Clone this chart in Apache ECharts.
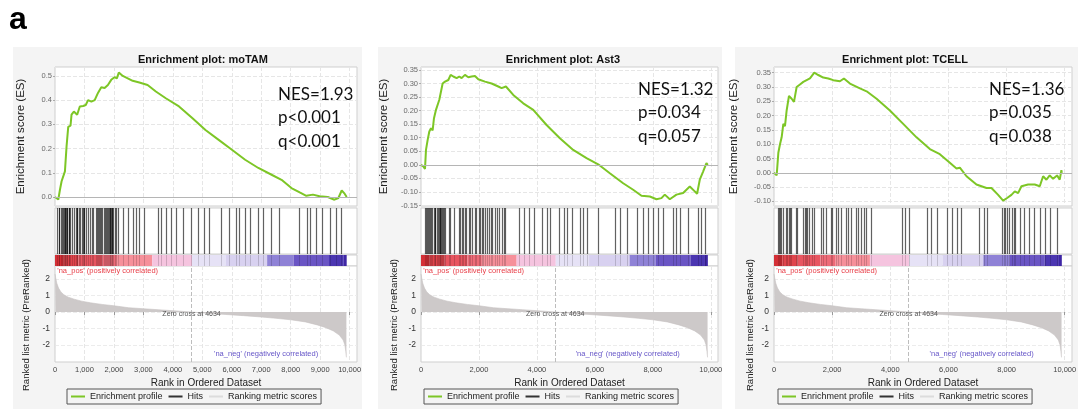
<!DOCTYPE html>
<html lang="en">
<head>
<meta charset="UTF-8">
<title>Enrichment plots</title>
<script src="https://cdn.jsdelivr.net/npm/echarts@6/dist/echarts.min.js"></script>
<style>
html, body { margin: 0; padding: 0; background: #fff; }
#main { width: 1081px; height: 409px; }
</style>
</head>
<body>
<div id="main"></div>
<script>
// ranked list metric, shared by the three gene sets
var metricRanks = [0, 20, 60, 120, 200, 300, 450, 650, 900, 1200, 1600, 2000, 2500, 3000, 3500, 4000, 4634,
    5200, 5800, 6400, 7000, 7500, 8000, 8500, 8900, 9200, 9450, 9650, 9780, 9840, 9870, 9890];
var metricScores = [2.3, 2.1, 1.75, 1.45, 1.22, 1.05, 0.9, 0.78, 0.66, 0.56, 0.46, 0.38, 0.26, 0.2, 0.14, 0.08, 0,
    -0.08, -0.15, -0.22, -0.3, -0.38, -0.47, -0.6, -0.78, -0.95, -1.15, -1.4, -1.7, -2.0, -2.4, -2.75];

// colour bar under the hits (rank boundaries and colours)
var bandEdges = [0, 300, 800, 1600, 2100, 3300, 4650, 5800, 7200, 8100, 9300, 9800, 9900];
var bandColors = ['#d42f36', '#e0444c', '#e85560', '#ee6b78', '#f6909a', '#f5c4df',
    '#e6e2f6', '#d8d1f0', '#8f82d6', '#6a55c4', '#4b36b1', '#3e26a4'];

// moTAM
var esRanks1 = [0, 112, 168, 224, 280, 337, 393, 449, 527, 561, 640, 752, 842, 954, 1044, 1122, 1235, 1347, 1459, 1571,
    1684, 1796, 1908, 2020, 2099, 2166, 2301, 2469, 2637, 2862, 3143, 3423, 3760, 4209, 4658, 5107, 5556, 6004, 6453, 6902,
    7351, 7688, 8025, 8305, 8530, 8754, 8979, 9259, 9484, 9618, 9731, 9830, 9900];
var esScores1 = [0, -0.01, 0.03, 0.065, 0.058, 0.106, 0.21, 0.29, 0.295, 0.34, 0.353, 0.34, 0.374, 0.376, 0.38, 0.40, 0.394, 0.40, 0.43, 0.453,
    0.45, 0.463, 0.484, 0.495, 0.49, 0.514, 0.50, 0.49, 0.48, 0.473, 0.463, 0.436, 0.408, 0.374, 0.326, 0.277, 0.236, 0.195, 0.154, 0.12,
    0.092, 0.071, 0.037, 0.019, 0.005, 0.01, 0.003, 0, -0.011, -0.004, 0.027, 0.014, 0];
var hits1 = [60, 125, 150, 200, 240, 260, 293, 330, 350, 370, 400, 420, 461, 480, 520, 572, 640, 700, 741, 760,
    800, 842, 900, 940, 976, 1000, 1050, 1135, 1200, 1246, 1300, 1400, 1420, 1471, 1500, 1530, 1560, 1582, 1650, 1700,
    1720, 1751, 1790, 1818, 1860, 1880, 1900, 1919, 1950, 1970, 2020, 2080, 2145, 2300, 2481, 2650, 2750, 2862, 3030, 3491,
    3603, 3771, 3939, 4108, 4333, 4613, 4838, 5051, 5219, 5623, 5892, 6128, 6229, 6465, 6633, 6902, 7071, 7340, 7609, 8283,
    8552, 8653, 8855, 9057, 9327, 9529, 9697];
var esTicks1 = [0, 0.1, 0.2, 0.3, 0.4, 0.5];
var stats1 = ['NES=1.93', 'p<0.001', 'q<0.001'];

// Ast3
var esRanks2 = [0, 80, 138, 172, 230, 287, 345, 402, 448, 517, 632, 690, 747, 828, 943, 1023, 1115, 1230, 1322, 1402,
    1517, 1632, 1747, 1862, 1977, 2207, 2437, 2667, 2782, 2931, 3184, 3529, 3874, 4333, 4793, 5253, 5713, 6115, 6517, 6977,
    7322, 7609, 7897, 8126, 8299, 8414, 8586, 8816, 9046, 9276, 9448, 9529, 9621, 9736, 9851, 9900];
var esScores2 = [0, -0.006, -0.015, 0.055, 0.092, 0.123, 0.135, 0.127, 0.172, 0.203, 0.24, 0.246, 0.30, 0.307, 0.313, 0.332, 0.326, 0.32, 0.326, 0.32,
    0.332, 0.323, 0.326, 0.328, 0.316, 0.307, 0.30, 0.289, 0.283, 0.289, 0.258, 0.227, 0.203, 0.147, 0.098, 0.055, 0.025, 0.002, -0.031, -0.068,
    -0.092, -0.114, -0.117, -0.127, -0.123, -0.11, -0.127, -0.11, -0.104, -0.08, -0.098, -0.107, -0.055, -0.025, 0.006, 0];
var hits2 = [148, 170, 200, 230, 265, 300, 330, 380, 438, 470, 500, 552, 580, 610, 640, 666, 690, 720, 750, 783,
    820, 955, 1010, 1128, 1300, 1350, 1414, 1450, 1528, 1560, 1650, 1700, 1750, 1872, 1900, 1990, 2050, 2103, 2150, 2217,
    2270, 2334, 2400, 2448, 2550, 2621, 2700, 2793, 2850, 2907, 3369, 3541, 3714, 3886, 4172, 4345, 4459, 4748, 4920, 5024,
    5197, 5483, 5597, 5714, 6114, 6690, 6862, 7093, 7438, 7666, 7838, 8010, 8183, 8355, 8700, 8817, 8931, 9217, 9562, 9679,
    9793];
var esTicks2 = [-0.15, -0.1, -0.05, 0, 0.05, 0.1, 0.15, 0.2, 0.25, 0.3, 0.35];
var stats2 = ['NES=1.32', 'p=0.034', 'q=0.057'];

// TCELL
var esRanks3 = [0, 92, 149, 206, 263, 321, 378, 435, 515, 607, 687, 779, 893, 1008, 1122, 1237, 1386, 1523, 1695, 1867,
    2039, 2268, 2405, 2612, 2955, 3185, 3528, 3986, 4444, 4902, 5361, 5704, 6048, 6277, 6392, 6621, 6964, 7308, 7480, 7709,
    7881, 8018, 8167, 8282, 8396, 8511, 8740, 8969, 9141, 9256, 9370, 9485, 9599, 9737, 9828, 9885, 9900];
var esScores3 = [0, -0.009, 0.07, 0.10, 0.124, 0.171, 0.163, 0.218, 0.269, 0.259, 0.248, 0.30, 0.309, 0.318, 0.324, 0.33, 0.35, 0.342, 0.333, 0.33,
    0.324, 0.32, 0.33, 0.312, 0.295, 0.285, 0.259, 0.218, 0.171, 0.124, 0.083, 0.065, 0.035, 0.015, 0.018, -0.012, -0.041, -0.053, -0.053, -0.077,
    -0.097, -0.088, -0.077, -0.065, -0.071, -0.047, -0.041, -0.041, -0.047, -0.012, -0.024, -0.009, -0.021, -0.009, -0.024, 0.009, 0];
var hits3 = [127, 160, 200, 241, 300, 412, 450, 527, 560, 600, 756, 800, 986, 1050, 1100, 1150, 1213, 1300, 1385, 1615,
    1700, 1787, 1959, 2000, 2131, 2200, 2302, 2474, 2550, 2646, 2818, 2900, 2990, 3100, 3162, 3333, 4388, 4502, 4650, 5268,
    5385, 5612, 5955, 6127, 6299, 6416, 7045, 7216, 7330, 7850, 7904, 7950, 8018, 8100, 8189, 8250, 8306, 8478, 8591, 8763,
    8935, 9165, 9337, 9509, 9736];
var esTicks3 = [-0.1, -0.05, 0, 0.05, 0.1, 0.15, 0.2, 0.25, 0.3, 0.35];
var stats3 = ['NES=1.36', 'p=0.035', 'q=0.038'];

var xTicks1 = [0, 1000, 2000, 3000, 4000, 5000, 6000, 7000, 8000, 9000, 10000];
var xTicks23 = [0, 2000, 4000, 6000, 8000, 10000];
var metricTicks = [-2, -1, 0, 1, 2];
var zeroCross = 4634;

var panels = [
    { title: 'Enrichment plot: moTAM', left: 55, width: 302, titleX: 203, ranks: esRanks1, scores: esScores1, hits: hits1,
      esMin: -0.037, esMax: 0.537, esTicks: esTicks1, digits: 1, xTicks: xTicks1, stats: stats1, statsX: 278, statsY: 83,
      esGap: 28, metricGap: 24, bg: [13, 362], legendX: 67 },
    { title: 'Enrichment plot: Ast3', left: 421, width: 297, titleX: 563, ranks: esRanks2, scores: esScores2, hits: hits2,
      esMin: -0.152, esMax: 0.361, esTicks: esTicks2, digits: 2, xTicks: xTicks23, stats: stats2, statsX: 638, statsY: 78,
      esGap: 31, metricGap: 22, bg: [378, 722], legendX: 424 },
    { title: 'Enrichment plot: TCELL', left: 774, width: 298, titleX: 905, ranks: esRanks3, scores: esScores3, hits: hits3,
      esMin: -0.116, esMax: 0.37, esTicks: esTicks3, digits: 2, xTicks: xTicks23, stats: stats3, statsX: 989, statsY: 78,
      esGap: 34, metricGap: 19, bg: [735, 1078], legendX: 778 }
];

var font = 'Liberation Sans';
var green = '#7dc626';
var rows = [{ top: 67, height: 139 }, { top: 208, height: 46 }, { top: 255, height: 11 }, { top: 266, height: 96 }];

function zip(a, b) {
    return a.map(function (v, i) { return [v, b[i]]; });
}
function thousands(v) {
    return Number(v).toLocaleString('en-US');
}
function renderHit(params, api) {
    var x = Math.round(api.coord([api.value(0), 0])[0]) + 0.5;
    var cs = params.coordSys;
    var strong = params.seriesName === 'Hits';
    return {
        type: 'line',
        shape: { x1: x, y1: cs.y, x2: x, y2: cs.y + cs.height },
        style: { stroke: '#000', lineWidth: strong ? 1.2 : 1, opacity: strong ? 0.62 : 0.16 }
    };
}
function renderBand(params, api) {
    var s = api.coord([api.value(0), 0]);
    var e = api.coord([api.value(1), 0]);
    var cs = params.coordSys;
    return {
        type: 'rect',
        shape: { x: s[0], y: cs.y, width: e[0] - s[0], height: cs.height },
        style: { fill: api.visual('color') }
    };
}

var grids = [], xAxes = [], yAxes = [], series = [], legends = [], graphics = [];

graphics.push({
    type: 'text', x: 9, y: 20, z: 10,
    style: { text: 'a', font: 'bold 32px "Liberation Sans"', fill: '#000', textVerticalAlign: 'middle', verticalAlign: 'middle' }
});

panels.forEach(function (p, i) {
    var base = i * 4;

    graphics.push({
        type: 'rect', z: -10, silent: true,
        shape: { x: p.bg[0], y: 47, width: p.bg[1] - p.bg[0], height: 362 },
        style: { fill: '#f4f4f4' }
    });
    graphics.push({
        type: 'text', x: p.titleX, y: 60, z: 10,
        style: { text: p.title, font: 'bold 11px "Liberation Sans"', fill: '#111',
                 textAlign: 'center', align: 'center', textVerticalAlign: 'middle', verticalAlign: 'middle' }
    });
    graphics.push({
        type: 'text', x: p.statsX, y: p.statsY, z: 10,
        style: { text: p.stats.join('\n'), font: '17px Lato', fill: '#111', lineHeight: 23.3,
                 textVerticalAlign: 'top', verticalAlign: 'top' }
    });

    rows.forEach(function (r) {
        grids.push({
            left: p.left, width: p.width, top: r.top, height: r.height,
            show: true, backgroundColor: '#fff', borderColor: '#cfcfcf', borderWidth: 1
        });
    });

    for (var k = 0; k < 4; k++) {
        var bottom = k === 3;
        xAxes.push({
            type: 'value', gridIndex: base + k, min: 0, max: 10250,
            axisLine: { show: false },
            axisTick: { show: bottom, customValues: p.xTicks, length: 3, lineStyle: { color: '#999' } },
            axisLabel: { show: bottom, customValues: p.xTicks, formatter: thousands, fontSize: 7.5,
                         color: '#444', margin: 4, fontFamily: font },
            splitLine: { show: k === 0 || k === 3, lineStyle: { color: '#e6e6e6', type: 'dashed' } },
            name: bottom ? 'Rank in Ordered Dataset' : '',
            nameLocation: 'middle', nameGap: 16,
            nameTextStyle: { fontSize: 10, color: '#222', fontFamily: font }
        });
    }

    yAxes.push({
        type: 'value', gridIndex: base, min: p.esMin, max: p.esMax,
        axisLine: { show: false },
        axisTick: { show: true, customValues: p.esTicks, length: 2, lineStyle: { color: '#aaa' } },
        axisLabel: { customValues: p.esTicks, fontSize: 7.5, color: '#6a6a6a', margin: 3, fontFamily: font,
                     formatter: function (v) { return Number(v).toFixed(p.digits); } },
        splitLine: { show: true, lineStyle: { color: '#e6e6e6', type: 'dashed' } },
        name: 'Enrichment score (ES)', nameLocation: 'middle', nameGap: p.esGap,
        nameTextStyle: { fontSize: 11.5, color: '#222', fontFamily: font }
    });
    yAxes.push({ type: 'value', gridIndex: base + 1, min: 0, max: 1, show: false });
    yAxes.push({ type: 'value', gridIndex: base + 2, min: 0, max: 1, show: false });
    yAxes.push({
        type: 'value', gridIndex: base + 3, min: -3.03, max: 2.79,
        axisLine: { show: false },
        axisTick: { show: false, customValues: metricTicks },
        axisLabel: { customValues: metricTicks, fontSize: 8.5, color: '#333', margin: 5, fontFamily: font },
        splitLine: { show: true, lineStyle: { color: '#ececec', type: 'dashed' } },
        name: 'Ranked list metric (PreRanked)', nameLocation: 'middle', nameGap: p.metricGap,
        nameTextStyle: { fontSize: 9.5, color: '#222', fontFamily: font, padding: [0, 22, 0, 0] }
    });

    series.push({
        type: 'line', name: 'Enrichment profile', xAxisIndex: base, yAxisIndex: base,
        data: zip(p.ranks, p.scores), showSymbol: false, z: 4,
        lineStyle: { color: green, width: 2 }, itemStyle: { color: green },
        markLine: {
            silent: true, symbol: ['none', 'none'], label: { show: false },
            lineStyle: { color: '#b5b5b5', type: 'solid', width: 1 },
            data: [{ yAxis: 0 }]
        }
    });
    series.push({
        type: 'custom', name: 'Hits', xAxisIndex: base + 1, yAxisIndex: base + 1,
        data: p.hits.map(function (r) { return [r]; }), encode: { x: 0 },
        renderItem: renderHit, itemStyle: { color: '#222' }, silent: true
    });
    series.push({
        type: 'custom', name: 'band', xAxisIndex: base + 2, yAxisIndex: base + 2,
        data: bandColors.map(function (c, j) {
            return { value: [bandEdges[j], bandEdges[j + 1]], itemStyle: { color: c } };
        }),
        encode: { x: [0, 1] }, renderItem: renderBand, silent: true
    });
    series.push({
        type: 'custom', name: 'band hits', xAxisIndex: base + 2, yAxisIndex: base + 2,
        data: p.hits.map(function (r) { return [r]; }), encode: { x: 0 },
        renderItem: renderHit, silent: true, z: 3
    });
    series.push({
        type: 'line', name: 'Ranking metric scores', xAxisIndex: base + 3, yAxisIndex: base + 3,
        data: zip(metricRanks, metricScores), showSymbol: false, silent: true,
        lineStyle: { color: '#c6c1c1', width: 0.6 },
        areaStyle: { color: '#cdc9c9', opacity: 1 },
        itemStyle: { color: '#dcdcdc' },
        markLine: {
            silent: true, symbol: ['none', 'none'], label: { show: false },
            lineStyle: { color: '#bdbdbd', type: 'dashed', width: 1 },
            data: [{ xAxis: zeroCross }]
        },
        markPoint: {
            silent: true, symbol: 'rect', symbolSize: 1, itemStyle: { color: 'rgba(0,0,0,0)' },
            data: [
                { coord: [60, 2.48], label: { show: true, position: 'right', distance: 0,
                  formatter: "'na_pos' (positively correlated)", color: '#e8404a', fontSize: 7.5, fontFamily: font } },
                { coord: [8950, -2.55], label: { show: true, position: 'left', distance: 0,
                  formatter: "'na_neg' (negatively correlated)", color: '#6656c8', fontSize: 7.5, fontFamily: font } },
                { coord: [zeroCross, -0.12], label: { show: true, position: 'inside',
                  formatter: 'Zero cross at ' + zeroCross, color: '#555', fontSize: 7, fontFamily: font } }
            ]
        }
    });

    legends.push({
        left: p.legendX, top: 389,
        orient: 'horizontal', selectedMode: false,
        itemWidth: 14, itemHeight: 2, itemGap: 6, padding: [3, 4],
        borderColor: '#555', borderWidth: 1,
        textStyle: { fontSize: 9, color: '#222', fontFamily: font },
        data: [
            { name: 'Enrichment profile', icon: 'rect', itemStyle: { color: green } },
            { name: 'Hits', icon: 'rect', itemStyle: { color: '#333' } },
            { name: 'Ranking metric scores', icon: 'rect', itemStyle: { color: '#dcdcdc' } }
        ]
    });
});

var chart = echarts.init(document.getElementById('main'));
chart.setOption({
    animation: false,
    backgroundColor: '#fff',
    grid: grids,
    xAxis: xAxes,
    yAxis: yAxes,
    legend: legends,
    graphic: graphics,
    series: series
});
</script>
</body>
</html>
